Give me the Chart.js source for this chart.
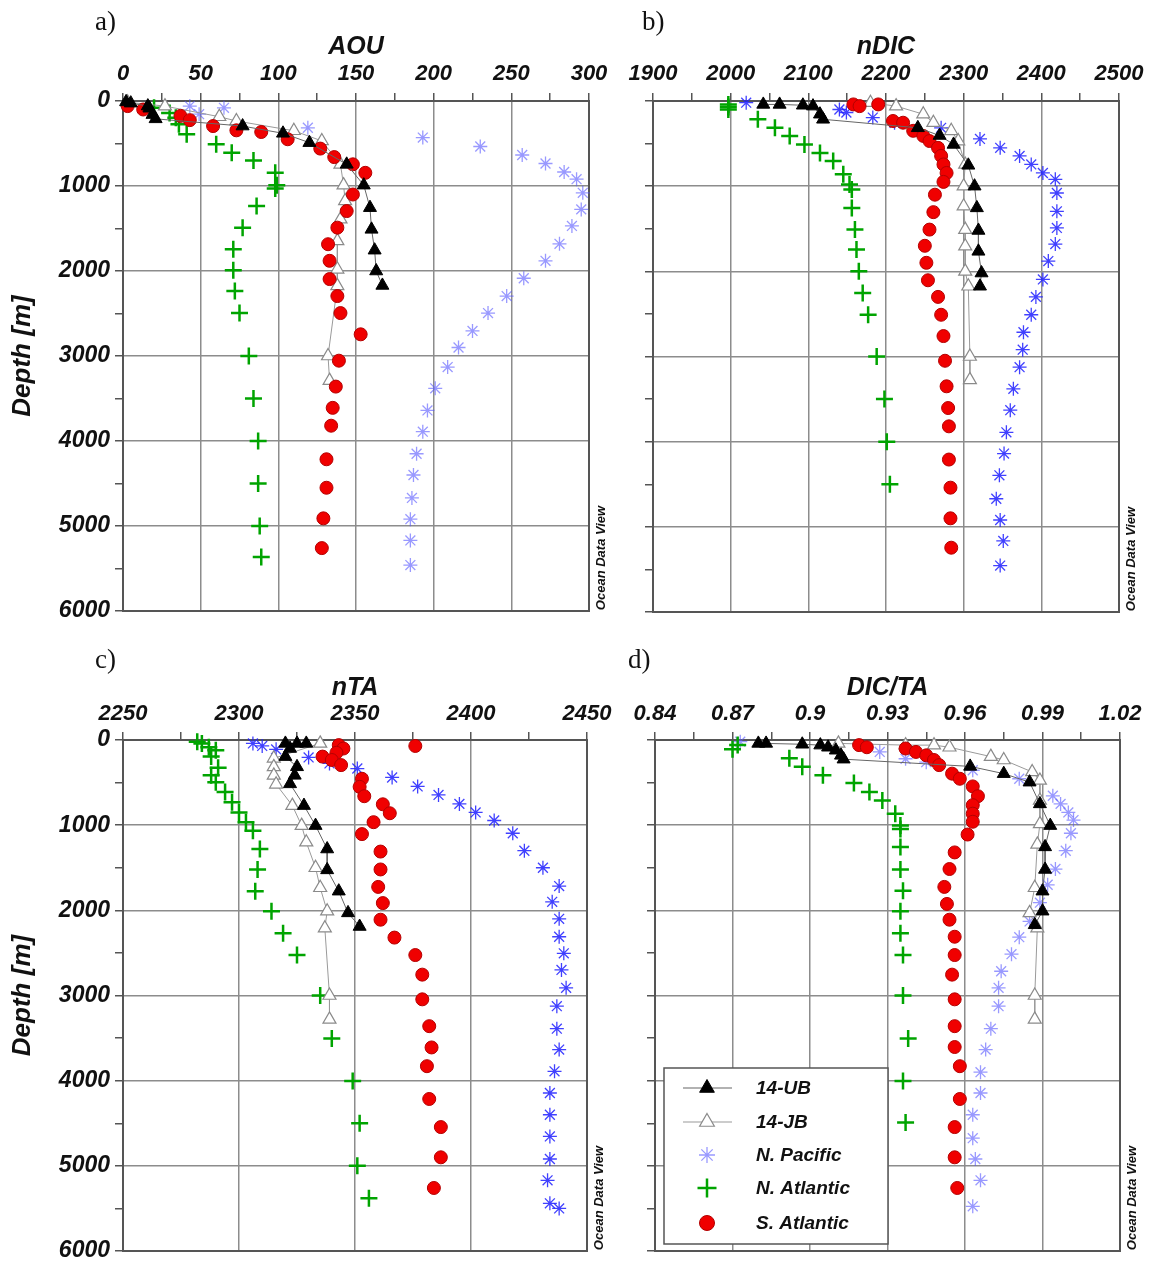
<!DOCTYPE html>
<html>
<head>
<meta charset="utf-8">
<script src="https://cdn.jsdelivr.net/npm/chart.js@4/dist/chart.umd.min.js"></script>
<style>
  body { margin: 0; background: #fff; width: 1154px; height: 1262px; position: relative; overflow: hidden; }
  canvas { position: absolute; }
</style>
</head>
<body>
<canvas id="pa" width="620" height="625" style="left:0;top:0"></canvas>
<canvas id="pb" width="614" height="625" style="left:540px;top:0"></canvas>
<canvas id="pc" width="620" height="632" style="left:0;top:630px"></canvas>
<canvas id="pd" width="614" height="632" style="left:540px;top:630px"></canvas>
<script>
// tick labels
const depthTicks = [0, 1000, 2000, 3000, 4000, 5000, 6000];
const aouTicks = [0, 50, 100, 150, 200, 250, 300];
const ndicTicks = [1900, 2000, 2100, 2200, 2300, 2400, 2500];
const ntaTicks = [2250, 2300, 2350, 2400, 2450];
const ratioTicks = [0.84, 0.87, 0.90, 0.93, 0.96, 0.99, 1.02];
const ratioLabels = ['0.84', '0.87', '0.9', '0.93', '0.96', '0.99', '1.02'];

const seriesNames = ['14-UB', '14-JB', 'N. Pacific', 'N. Atlantic', 'S. Atlantic'];

// a) AOU  [value, depth]
const aouUB = [[2,10],[5,25],[16,60],[17,85],[19,160],[21,210],[77,295],[103,380],[120,490],[144,745],[155,990],[159,1255],[160,1510],[162,1755],[163,2000],[167,2170]];
const aouJB = [[3,15],[27,60],[62,185],[73,235],[110,350],[128,470],[140,745],[142,990],[143,1175],[140,1390],[138,1645],[138,1980],[138,2175],[132,3000],[133,3290]];
const aouNP = [[43,60],[65,80],[49,155],[119,315],[193,430],[230,535],[257,635],[272,735],[284,835],[292,920],[296,1080],[295,1275],[289,1470],[281,1680],[272,1880],[258,2085],[247,2295],[235,2495],[225,2705],[216,2900],[209,3130],[201,3380],[196,3640],[193,3890],[189,4150],[187,4400],[186,4670],[185,4920],[185,5170],[185,5460]];
const aouNA = [[20,80],[30,140],[34,196],[36,274],[41,392],[60,510],[70,610],[84,700],[98,845],[99,990],[98,1030],[86,1235],[77,1490],[71,1745],[71,1990],[72,2235],[75,2495],[81,3000],[84,3500],[87,4000],[87,4500],[88,5000],[89,5365]];
const aouSA = [[3,60],[13,100],[37,175],[43,225],[58,295],[73,345],[89,365],[106,450],[127,560],[136,660],[148,745],[156,845],[148,1100],[144,1295],[138,1490],[132,1685],[133,1880],[133,2095],[138,2295],[140,2495],[153,2745],[139,3055],[137,3360],[135,3610],[134,3820],[131,4215],[131,4550],[129,4910],[128,5260]];

// b) nDIC
const ndicUB = [[2042,40],[2063,40],[2093,50],[2106,60],[2115,155],[2119,215],[2241,315],[2269,405],[2287,510],[2306,755],[2314,1000],[2317,1255],[2319,1520],[2319,1765],[2323,2020],[2321,2175]];
const ndicJB = [[2180,20],[2213,60],[2248,155],[2261,255],[2284,350],[2293,470],[2302,745],[2300,1000],[2300,1235],[2302,1510],[2302,1705],[2302,2000],[2306,2175],[2308,3000],[2308,3275]];
const ndicNP = [[2020,20],[2140,100],[2149,135],[2183,195],[2211,255],[2271,315],[2321,445],[2347,550],[2372,645],[2387,745],[2402,845],[2418,920],[2420,1080],[2420,1295],[2420,1490],[2418,1680],[2409,1880],[2402,2095],[2393,2300],[2387,2510],[2377,2715],[2376,2920],[2372,3125],[2364,3380],[2360,3630],[2355,3890],[2352,4140],[2346,4395],[2342,4670],[2347,4920],[2351,5165],[2347,5455]];
const ndicNA = [[1997,40],[1997,70],[1997,100],[2035,215],[2057,315],[2076,410],[2095,510],[2115,610],[2132,705],[2145,860],[2153,980],[2156,1040],[2156,1255],[2160,1510],[2162,1745],[2165,2000],[2170,2255],[2177,2510],[2188,3000],[2198,3500],[2201,4000],[2205,4500]];
const ndicSA = [[2158,40],[2166,60],[2190,40],[2209,235],[2222,255],[2235,350],[2248,410],[2256,470],[2267,550],[2271,645],[2274,745],[2278,845],[2274,950],[2263,1100],[2261,1305],[2256,1510],[2250,1700],[2252,1900],[2254,2105],[2267,2300],[2271,2510],[2274,2760],[2276,3050],[2278,3350],[2280,3605],[2281,3820],[2281,4210],[2283,4540],[2283,4900],[2284,5245]];

// c) nTA
const ntaUB = [[2320,40],[2325,40],[2329,40],[2322,100],[2320,195],[2325,315],[2324,415],[2322,515],[2328,770],[2333,1005],[2338,1280],[2338,1525],[2343,1775],[2347,2030],[2352,2190]];
const ntaJB = [[2335,40],[2315,215],[2315,315],[2315,415],[2316,520],[2323,770],[2327,1005],[2329,1200],[2333,1500],[2335,1735],[2338,2010],[2337,2210],[2339,3000],[2339,3280]];
const ntaNP = [[2306,40],[2310,70],[2316,110],[2330,205],[2339,275],[2351,335],[2366,440],[2377,545],[2386,645],[2395,750],[2402,850],[2410,945],[2418,1095],[2423,1300],[2431,1500],[2438,1715],[2435,1900],[2438,2100],[2438,2310],[2440,2505],[2439,2700],[2441,2910],[2437,3125],[2437,3390],[2438,3635],[2436,3890],[2434,4145],[2434,4400],[2434,4655],[2434,4920],[2433,5170],[2434,5440],[2438,5500]];
const ntaNA = [[2282,20],[2284,40],[2287,85],[2290,120],[2288,195],[2291,325],[2288,415],[2290,495],[2294,610],[2297,730],[2300,850],[2303,965],[2306,1065],[2309,1280],[2308,1520],[2307,1775],[2314,2010],[2319,2270],[2325,2525],[2335,3000],[2340,3505],[2349,4005],[2352,4500],[2351,5000],[2356,5380]];
const ntaSA = [[2376,70],[2343,60],[2345,100],[2342,150],[2336,195],[2340,235],[2344,295],[2353,455],[2352,550],[2354,660],[2362,755],[2365,860],[2358,965],[2353,1105],[2361,1310],[2361,1520],[2360,1725],[2362,1915],[2361,2110],[2367,2320],[2376,2525],[2379,2755],[2379,3045],[2382,3360],[2383,3610],[2381,3830],[2382,4215],[2387,4545],[2387,4900],[2384,5260]];

// d) DIC/TA
const ratioUB = [[0.880,40],[0.883,40],[0.897,50],[0.904,60],[0.907,85],[0.910,120],[0.912,180],[0.913,225],[0.962,310],[0.975,395],[0.985,495],[0.989,750],[0.993,1005],[0.991,1255],[0.991,1520],[0.990,1775],[0.990,2010],[0.987,2170]];
const ratioJB = [[0.911,40],[0.937,60],[0.948,60],[0.954,85],[0.970,195],[0.975,235],[0.986,375],[0.989,475],[0.989,710],[0.989,985],[0.988,1225],[0.987,1735],[0.985,2030],[0.988,2210],[0.987,3000],[0.987,3280]];
const ratioNP = [[0.873,20],[0.927,140],[0.937,220],[0.945,260],[0.963,355],[0.981,455],[0.994,655],[0.997,750],[1.000,850],[1.002,940],[1.001,1095],[0.999,1300],[0.995,1515],[0.992,1700],[0.989,1910],[0.985,2130],[0.981,2315],[0.978,2515],[0.974,2715],[0.973,2910],[0.973,3125],[0.970,3390],[0.968,3635],[0.966,3900],[0.966,4145],[0.963,4400],[0.963,4675],[0.964,4920],[0.966,5170],[0.963,5475]];
const ratioNA = [[0.872,60],[0.870,110],[0.892,215],[0.897,315],[0.905,415],[0.917,505],[0.923,610],[0.928,710],[0.933,865],[0.935,1005],[0.935,1045],[0.935,1255],[0.935,1520],[0.936,1770],[0.935,2010],[0.935,2270],[0.936,2525],[0.936,3000],[0.938,3505],[0.936,4005],[0.937,4490]];
const ratioSA = [[0.919,60],[0.922,85],[0.937,100],[0.941,140],[0.945,180],[0.948,235],[0.950,295],[0.955,395],[0.958,455],[0.963,545],[0.965,660],[0.963,765],[0.963,865],[0.963,960],[0.961,1110],[0.956,1320],[0.954,1515],[0.952,1725],[0.953,1925],[0.954,2110],[0.956,2310],[0.956,2525],[0.955,2755],[0.956,3045],[0.956,3360],[0.956,3605],[0.958,3830],[0.958,4215],[0.956,4545],[0.956,4900],[0.957,5260]];

const FONT = "'Liberation Sans', Arial, sans-serif";
const GRID = '#8c8c8c';
const FRAME = '#555';
const NP_LIGHT = 'rgba(85,85,255,0.6)';
const NP_DARK = 'rgba(30,30,255,0.85)';

function withMinor(list) {
  const out = [];
  list.forEach((v, i) => {
    out.push(v);
    if (i < list.length - 1) out.push((v + list[i + 1]) / 2);
  });
  return out;
}

function majorIndex(list, v) {
  return list.findIndex(m => Math.abs(m - v) < 1e-7);
}

const toPts = arr => arr.map(([x, y]) => ({ x, y }));

function styleFor(i, npColor) {
  return [
    { pointStyle: 'triangle', pointRadius: 7.5, pointBackgroundColor: '#000', pointBorderColor: '#000', pointBorderWidth: 1, showLine: true, borderColor: '#666', borderWidth: 1, order: 1 },
    { pointStyle: 'triangle', pointRadius: 7.5, pointBackgroundColor: '#fff', pointBorderColor: '#8a8a8a', pointBorderWidth: 1.2, showLine: true, borderColor: '#9a9a9a', borderWidth: 1, order: 3 },
    { pointStyle: 'star', pointRadius: 7, pointBackgroundColor: npColor, pointBorderColor: npColor, pointBorderWidth: 1.3, order: 5 },
    { pointStyle: 'cross', pointRadius: 8.5, pointBackgroundColor: '#00a400', pointBorderColor: '#00a400', pointBorderWidth: 2.5, order: 4 },
    { pointStyle: 'circle', pointRadius: 6.5, pointBackgroundColor: '#f00000', pointBorderColor: '#b30000', pointBorderWidth: 1, order: 2 }
  ][i];
}

const extras = {
  id: 'extras',
  beforeDatasetsDraw(chart) {
    const { ctx, chartArea: a } = chart;
    ctx.save();
    ctx.strokeStyle = FRAME;
    ctx.lineWidth = 2;
    ctx.strokeRect(a.left, a.top, a.right - a.left, a.bottom - a.top);
    ctx.restore();
  },
  afterDraw(chart, args, opts) {
    const { ctx, chartArea: a } = chart;
    ctx.save();
    ctx.fillStyle = '#111';
    ctx.font = "27px 'Liberation Serif', 'Times New Roman', serif";
    ctx.textAlign = 'left';
    ctx.textBaseline = 'alphabetic';
    ctx.fillText(opts.label, opts.lx, opts.ly);

    ctx.translate(a.right + 12, a.bottom - 53);
    ctx.rotate(-Math.PI / 2);
    ctx.font = 'italic bold 13px ' + FONT;
    ctx.textAlign = 'center';
    ctx.textBaseline = 'middle';
    ctx.fillText('Ocean Data View', 0, 0);
    ctx.restore();

    if (opts.legend) drawLegend(chart);
  }
};

function drawLegend(chart) {
  const ctx = chart.ctx;
  const box = { x: 124, y: 438, w: 224, h: 176 };
  const rows = [458, 492, 525, 558, 593];
  ctx.save();
  ctx.fillStyle = '#fff';
  ctx.fillRect(box.x, box.y, box.w, box.h);
  ctx.strokeStyle = '#555';
  ctx.lineWidth = 1.5;
  ctx.strokeRect(box.x, box.y, box.w, box.h);
  chart.data.datasets.forEach((ds, i) => {
    const y = rows[i];
    if (ds.showLine) {
      ctx.strokeStyle = ds.borderColor;
      ctx.lineWidth = 1.2;
      ctx.beginPath();
      ctx.moveTo(143, y);
      ctx.lineTo(192, y);
      ctx.stroke();
    }
    const lightNP = i === 2 ? NP_LIGHT : null;
    ctx.fillStyle = lightNP || ds.pointBackgroundColor;
    ctx.strokeStyle = lightNP || ds.pointBorderColor;
    ctx.lineWidth = ds.pointBorderWidth;
    Chart.helpers.drawPoint(ctx, {
      pointStyle: ds.pointStyle, radius: ds.pointRadius + 1, rotation: 0, borderWidth: ds.pointBorderWidth
    }, 167, y);
    ctx.fillStyle = '#111';
    ctx.font = 'italic bold 19px ' + FONT;
    ctx.textAlign = 'left';
    ctx.textBaseline = 'middle';
    ctx.fillText(ds.label, 216, y + 1);
  });
  ctx.restore();
}

function panel(id, spec) {
  const majors = spec.xTicks;
  const allX = withMinor(majors);
  const allY = withMinor(depthTicks);
  const datasets = spec.series.map((arr, i) => Object.assign({
    label: seriesNames[i],
    data: toPts(arr),
    clip: false
  }, styleFor(i, spec.npColor)));

  new Chart(document.getElementById(id), {
    type: 'scatter',
    data: { datasets },
    options: {
      responsive: false,
      animation: false,
      devicePixelRatio: 1,
      layout: { padding: { left: 0, top: 0, right: spec.padR, bottom: spec.padB } },
      plugins: {
        legend: { display: false },
        tooltip: { enabled: false },
        extras: { label: spec.label, lx: spec.lx, ly: spec.ly, legend: !!spec.legend }
      },
      scales: {
        x: {
          type: 'linear',
          position: 'top',
          min: majors[0],
          max: majors[majors.length - 1],
          afterBuildTicks: sc => { sc.ticks = allX.map(v => ({ value: v })); },
          afterFit: sc => {
            sc.height = spec.xH;
            sc.paddingLeft = 0;
            sc.paddingRight = 0;
          },
          border: { display: false },
          grid: {
            color: c => (c.tick && majorIndex(majors, c.tick.value) >= 0) ? GRID : 'rgba(0,0,0,0)',
            lineWidth: 1.5,
            tickLength: 8,
            tickColor: FRAME,
            tickWidth: 1.5
          },
          ticks: {
            autoSkip: false,
            maxRotation: 0,
            padding: spec.tickPad,
            color: '#111',
            font: { family: FONT, size: 22, style: 'italic', weight: 'bold' },
            callback: v => {
              const k = majorIndex(majors, v);
              return k < 0 ? '' : (spec.xLabels ? spec.xLabels[k] : String(v));
            }
          },
          title: {
            display: true,
            text: spec.xTitle,
            color: '#111',
            font: { family: FONT, size: 25, style: 'italic', weight: 'bold', lineHeight: 1.2 },
            padding: { top: spec.titlePad, bottom: 0 }
          }
        },
        y: {
          type: 'linear',
          reverse: true,
          min: 0,
          max: 6000,
          afterBuildTicks: sc => { sc.ticks = allY.map(v => ({ value: v })); },
          afterFit: sc => {
            sc.width = spec.yW;
            sc.paddingTop = 0;
            sc.paddingBottom = 0;
          },
          border: { display: false },
          grid: {
            color: c => (c.tick && depthTicks.includes(c.tick.value)) ? GRID : 'rgba(0,0,0,0)',
            lineWidth: 1.5,
            tickLength: 8,
            tickColor: FRAME,
            tickWidth: 1.5
          },
          ticks: {
            autoSkip: false,
            padding: 5,
            color: '#111',
            font: { family: FONT, size: 23, style: 'italic', weight: 'bold' },
            callback: v => (spec.yLabels && depthTicks.includes(v)) ? String(v) : ''
          },
          title: {
            display: !!spec.yTitle,
            text: spec.yTitle || '',
            color: '#111',
            font: { family: FONT, size: 26, style: 'italic', weight: 'bold', lineHeight: 1.2 },
            padding: { top: 7, bottom: 0 }
          }
        }
      }
    },
    plugins: [extras]
  });
}

panel('pa', {
  series: [aouUB, aouJB, aouNP, aouNA, aouSA], npColor: NP_LIGHT,
  xTicks: aouTicks, xTitle: 'AOU', yTitle: 'Depth [m]', yLabels: true,
  yW: 123, xH: 101, padR: 31, padB: 14, titlePad: 32, tickPad: 6,
  label: 'a)', lx: 95, ly: 30
});
panel('pb', {
  series: [ndicUB, ndicJB, ndicNP, ndicNA, ndicSA], npColor: NP_DARK,
  xTicks: ndicTicks, xTitle: 'nDIC',
  yW: 113, xH: 101, padR: 35, padB: 13, titlePad: 32, tickPad: 6,
  label: 'b)', lx: 102, ly: 30
});
panel('pc', {
  series: [ntaUB, ntaJB, ntaNP, ntaNA, ntaSA], npColor: NP_DARK,
  xTicks: ntaTicks, xTitle: 'nTA', yTitle: 'Depth [m]', yLabels: true,
  yW: 123, xH: 110, padR: 33, padB: 10, titlePad: 43, tickPad: 5,
  label: 'c)', lx: 95, ly: 38
});
panel('pd', {
  series: [ratioUB, ratioJB, ratioNP, ratioNA, ratioSA], npColor: NP_LIGHT,
  xTicks: ratioTicks, xLabels: ratioLabels, xTitle: 'DIC/TA',
  yW: 115, xH: 110, padR: 34, padB: 10, titlePad: 43, tickPad: 5,
  label: 'd)', lx: 88, ly: 38, legend: true
});
</script>
</body>
</html>
